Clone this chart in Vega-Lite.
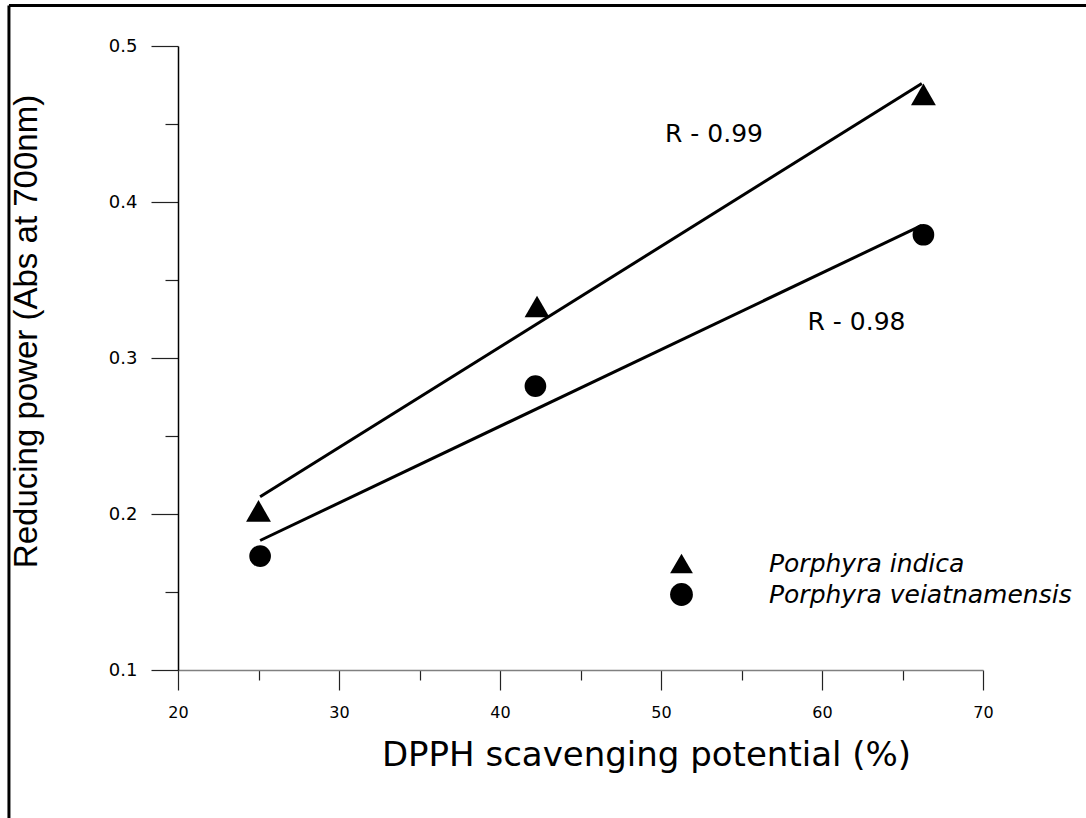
{
  "$schema": "https://vega.github.io/schema/vega-lite/v6.json",
  "width": 805,
  "height": 624,
  "autosize": {"type": "none"},
  "padding": {"left": 178, "top": 46, "right": 103, "bottom": 148},
  "background": "white",
  "config": {"view": {"stroke": null}},
  "datasets": {
    "points": [
      {"dpph": 25.0, "rp": 0.202, "species": "Porphyra indica"},
      {"dpph": 42.3, "rp": 0.333, "species": "Porphyra indica"},
      {"dpph": 66.3, "rp": 0.469, "species": "Porphyra indica"},
      {"dpph": 25.1, "rp": 0.173, "species": "Porphyra veiatnamensis"},
      {"dpph": 42.2, "rp": 0.282, "species": "Porphyra veiatnamensis"},
      {"dpph": 66.3, "rp": 0.379, "species": "Porphyra veiatnamensis"}
    ],
    "fits": [
      {"dpph": 25.1, "rp": 0.211, "species": "Porphyra indica"},
      {"dpph": 66.2, "rp": 0.476, "species": "Porphyra indica"},
      {"dpph": 25.1, "rp": 0.183, "species": "Porphyra veiatnamensis"},
      {"dpph": 66.2, "rp": 0.385, "species": "Porphyra veiatnamensis"}
    ],
    "notes": [
      {"dpph": 50.25, "rp": 0.4385, "label": "R - 0.99"},
      {"dpph": 59.1, "rp": 0.318, "label": "R - 0.98"}
    ]
  },
  "resolve": {"axis": {"x": "independent", "y": "independent"}},
  "layer": [
    {
      "data": {"values": [{}]},
      "mark": {"type": "rule", "color": "black", "strokeWidth": 3},
      "encoding": {
        "x": {"datum": 9.5, "type": "quantitative", "scale": {"domain": [20, 70], "nice": false, "zero": false}, "axis": null},
        "y": {"datum": 0.526, "type": "quantitative", "scale": {"domain": [0.1, 0.5], "nice": false, "zero": false}, "axis": null},
        "y2": {"datum": -0.02}
      }
    },
    {
      "data": {"values": [{}]},
      "mark": {"type": "rule", "color": "black", "strokeWidth": 3},
      "encoding": {
        "x": {"datum": 9.5, "type": "quantitative", "axis": null},
        "x2": {"datum": 80},
        "y": {"datum": 0.526, "type": "quantitative", "axis": null}
      }
    },
    {
      "data": {"name": "points"},
      "mark": {"type": "point", "opacity": 0},
      "encoding": {
        "x": {
          "field": "dpph",
          "type": "quantitative",
          "axis": {
            "orient": "bottom",
            "title": null,
            "values": [25, 35, 45, 55, 65],
            "labels": false,
            "domain": false,
            "grid": false,
            "tickSize": 10,
            "tickColor": "#222222",
            "tickWidth": 1.2
          }
        },
        "y": {
          "field": "rp",
          "type": "quantitative",
          "axis": {
            "orient": "left",
            "title": null,
            "values": [0.15, 0.25, 0.35, 0.45],
            "labels": false,
            "domain": false,
            "grid": false,
            "tickSize": 13,
            "tickColor": "#222222",
            "tickWidth": 1.2
          }
        }
      }
    },
    {
      "encoding": {
        "x": {
          "field": "dpph",
          "type": "quantitative",
          "scale": {"domain": [20, 70], "nice": false, "zero": false},
          "axis": {
            "orient": "bottom",
            "title": "DPPH scavenging potential (%)",
            "values": [20, 30, 40, 50, 60, 70],
            "tickSize": 20,
            "grid": false,
            "domainColor": "#808080",
            "domainWidth": 1.5,
            "tickColor": "#222222",
            "tickWidth": 1.2,
            "labelFont": "DejaVu Sans",
            "labelFontSize": 16,
            "labelColor": "black",
            "labelPadding": 14,
            "labelFlush": false,
            "labelOverlap": false,
            "titleFont": "DejaVu Sans",
            "titleFontSize": 34,
            "titleFontWeight": "normal",
            "titleColor": "black",
            "titleX": 468,
            "titleY": 95,
            "titleAlign": "center",
            "titleBaseline": "alphabetic"
          }
        },
        "y": {
          "field": "rp",
          "type": "quantitative",
          "scale": {"domain": [0.1, 0.5], "nice": false, "zero": false},
          "axis": {
            "orient": "left",
            "title": "Reducing power (Abs at 700nm)",
            "values": [0.1, 0.2, 0.3, 0.4, 0.5],
            "format": ".1f",
            "tickSize": 27,
            "grid": false,
            "domainColor": "black",
            "domainWidth": 1.5,
            "tickColor": "#222222",
            "tickWidth": 1.2,
            "labelFont": "DejaVu Sans",
            "labelFontSize": 18,
            "labelColor": "black",
            "labelPadding": 14,
            "labelOverlap": false,
            "labelFlush": false,
            "titleFont": "Liberation Sans",
            "titleFontSize": 33,
            "titleFontWeight": "normal",
            "titleColor": "black",
            "titleAngle": -90,
            "titleX": -142,
            "titleY": 285,
            "titleAlign": "center",
            "titleBaseline": "alphabetic"
          }
        }
      },
      "layer": [
        {
          "data": {"name": "fits"},
          "mark": {"type": "line", "color": "black", "strokeWidth": 3},
          "encoding": {
            "detail": {"field": "species", "type": "nominal"}
          }
        },
        {
          "data": {"name": "points"},
          "mark": {"type": "point", "filled": true, "color": "black", "opacity": 1},
          "encoding": {
            "shape": {
              "field": "species",
              "type": "nominal",
              "scale": {"domain": ["Porphyra indica", "Porphyra veiatnamensis"], "range": ["triangle-up", "circle"]},
              "legend": {
                "title": null,
                "orient": "none",
                "legendX": 491,
                "legendY": 505,
                "padding": 0,
                "labelFont": "DejaVu Sans",
                "labelFontStyle": "italic",
                "labelFontSize": 25,
                "labelColor": "black",
                "labelOffset": 75,
                "labelLimit": 400,
                "rowPadding": 3,
                "symbolSize": 520,
                "symbolFillColor": "black",
                "symbolStrokeColor": "black",
                "symbolOpacity": 1
              }
            },
            "size": {"condition": {"test": "datum.species === 'Porphyra indica'", "value": 620}, "value": 470}
          }
        },
        {
          "data": {"name": "notes"},
          "mark": {"type": "text", "align": "left", "baseline": "alphabetic", "font": "DejaVu Sans", "fontSize": 25, "color": "black"},
          "encoding": {
            "text": {"field": "label", "type": "nominal"}
          }
        }
      ]
    }
  ]
}
